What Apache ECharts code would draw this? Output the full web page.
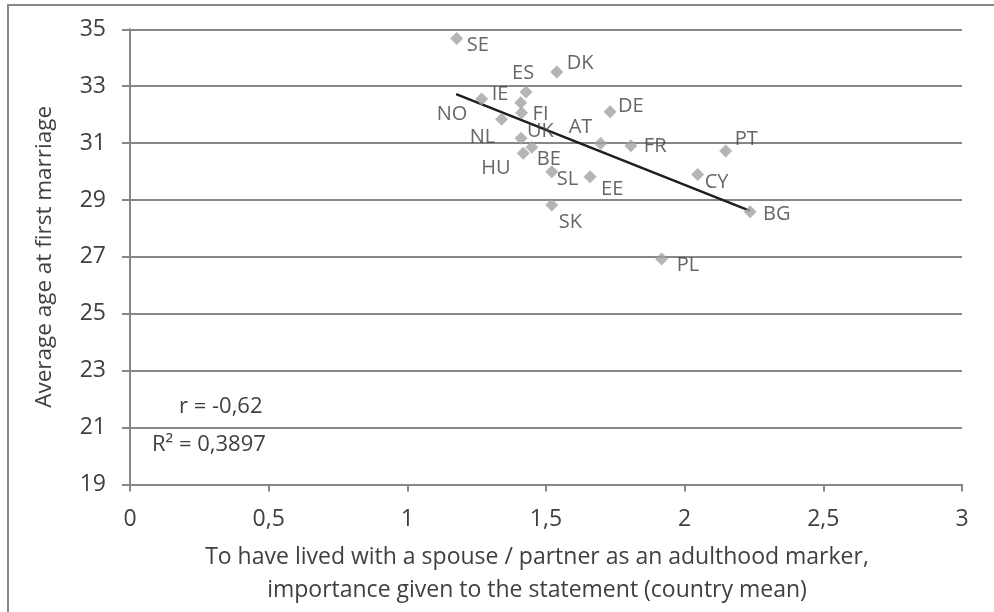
<!DOCTYPE html>
<html>
<head>
<meta charset="utf-8">
<script src="https://cdn.jsdelivr.net/npm/echarts@6/dist/echarts.min.js"></script>
<style>
  html, body { margin: 0; padding: 0; background: #fff; }
  #chart { width: 994px; height: 612px; }
</style>
</head>
<body>
<div id="chart"></div>
<script>
const countries = ['SE','DK','ES','IE','NO','FI','NL','UK','AT','HU','BE','SL','EE','SK','DE','FR','PT','CY','BG','PL'];
const xValues = [1.178,1.539,1.428,1.268,1.409,1.412,1.340,1.410,1.697,1.418,1.449,1.521,1.659,1.521,1.731,1.806,2.148,2.047,2.236,1.917];
const yValues = [34.68,33.50,32.80,32.55,32.42,32.07,31.84,31.17,30.99,30.64,30.85,29.99,29.82,28.82,32.10,30.91,30.72,29.90,28.59,26.93];
const trendX = [1.176, 2.236];
const trendY = [32.72, 28.62];
const xTicks = [0, 0.5, 1, 1.5, 2, 2.5, 3];
const yTicks = [19, 21, 23, 25, 27, 29, 31, 33, 35];
const statR = 'r = -0,62';
const statR2 = 'R² = 0,3897';

// label placement (left edge, vertical centre) relative to each point, in px
const labelOffsets = {
  SE:[10,7], DK:[10,-9], ES:[-14,-19], IE:[10,-5], NO:[-84,12], FI:[11,2],
  NL:[-32,18], UK:[6,-7], AT:[-32,-16], HU:[-42,15], BE:[5,12], SL:[5,7],
  EE:[11,13], SK:[7,17], DE:[8,-6], FR:[13,1], PT:[9,-12], CY:[7,8],
  BG:[13,3], PL:[15,6]
};

const FONT = '"Open Sans", "DejaVu Sans", sans-serif';
const TXT = '#404040';
const GRID = '#878787';
const SYM = 13;
const fmt = v => String(v).replace('.', ',');

const points = countries.map((c, i) => ({
  name: c,
  value: [xValues[i], yValues[i]],
  label: { position: [labelOffsets[c][0] + SYM / 2, labelOffsets[c][1] + SYM / 2] }
}));

const chart = echarts.init(document.getElementById('chart'), null, { renderer: 'canvas' });
chart.setOption({
  backgroundColor: '#fff',
  animation: false,
  grid: { left: 130, right: 32, top: 29.3, bottom: 127.5, containLabel: false },
  xAxis: {
    type: 'value', min: 0, max: 3, interval: 0.5,
    name: 'To have lived with a spouse / partner as an adulthood marker,\nimportance given to the statement (country mean)',
    nameLocation: 'middle', nameGap: 56,
    nameTextStyle: { fontFamily: FONT, fontSize: 23, color: TXT, lineHeight: 33, padding: [0, 18, 0, 0] },
    axisLine: { show: true, onZero: false, lineStyle: { color: GRID, width: 2 } },
    axisTick: { show: true, length: 7, lineStyle: { color: GRID, width: 2 } },
    axisLabel: { fontFamily: FONT, fontSize: 23, color: TXT, margin: 23, formatter: fmt },
    splitLine: { show: false }
  },
  yAxis: {
    type: 'value', min: 19, max: 35,
    name: 'Average age at first marriage',
    nameLocation: 'middle', nameGap: 74,
    nameTextStyle: { fontFamily: FONT, fontSize: 22.5, color: TXT },
    axisLine: { show: true, onZero: false, lineStyle: { color: GRID, width: 2 } },
    axisTick: { show: true, length: 8, customValues: yTicks, lineStyle: { color: GRID, width: 2 } },
    axisLabel: { fontFamily: FONT, fontSize: 23, color: TXT, margin: 24, customValues: yTicks, formatter: fmt },
    splitLine: { show: true, lineStyle: { color: GRID, width: 2 } }
  },
  series: [
    {
      type: 'line',
      data: trendX.map((x, i) => [x, trendY[i]]),
      showSymbol: false,
      lineStyle: { color: '#1e1e1e', width: 2.5 },
      z: 3,
      silent: true
    },
    {
      type: 'scatter',
      data: points,
      symbol: 'diamond',
      symbolSize: SYM,
      itemStyle: { color: '#a3a3a3' },
      z: 4,
      label: {
        show: true,
        align: 'left',
        verticalAlign: 'middle',
        formatter: p => p.name,
        fontFamily: FONT, fontSize: 20, color: TXT
      },
      labelLayout: { hideOverlap: false }
    }
  ],
  graphic: [
    { type: 'rect', shape: { x: 8, y: 5, width: 1100, height: 800 }, style: { fill: 'none', stroke: GRID, lineWidth: 2 }, silent: true, z: 0 },
    { type: 'text', left: 179, top: 396, style: { text: statR, font: '22px ' + FONT, fill: TXT }, z: 10 },
    { type: 'text', left: 152, top: 434, style: { text: statR2, font: '22px ' + FONT, fill: TXT }, z: 10 }
  ]
});
</script>
</body>
</html>
